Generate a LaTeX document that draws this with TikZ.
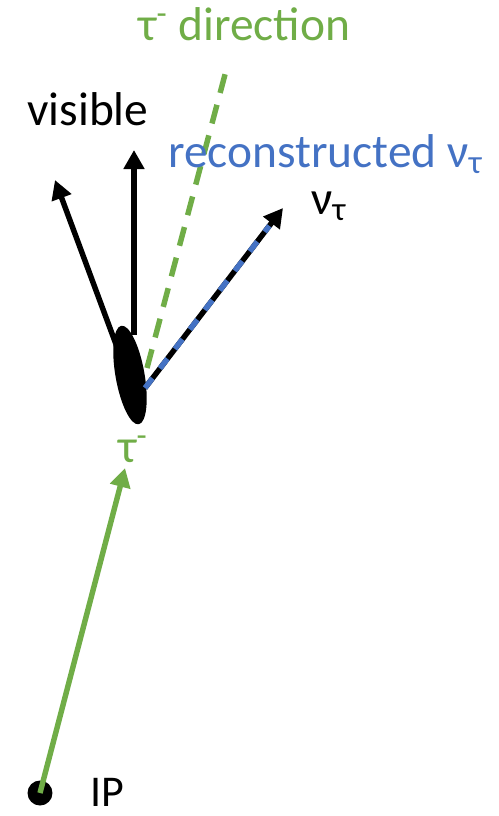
\documentclass[tikz,border=0pt]{standalone}
\usepackage{fontspec}
\setmainfont{Carlito}
\usetikzlibrary{arrows.meta,shapes.geometric}
\definecolor{taugreen}{HTML}{70AD47}
\definecolor{nublue}{HTML}{4472C4}

\begin{document}
\begin{tikzpicture}[
  x=0.02cm, y=-0.02cm,
  lbl/.style={font=\fontsize{27}{32}\selectfont, inner sep=0pt, anchor=base west},
  trk/.style={line width=3.1pt, -{Triangle[length=3.8mm, width=4mm]}},
]
\useasboundingbox (0,0) rectangle (499,816);

% vertices
\node[circle, fill, inner sep=0pt, minimum size=0.5cm] (ip) at (40,793) {};
\node[ellipse, fill, inner sep=0pt, minimum width=0.58cm, minimum height=2cm,
      rotate=10] (dec) at (130,375) {};

% end points
\coordinate (taub) at (125,468);
\coordinate (vis1) at (55,180);
\coordinate (vis2) at (134,150);
\coordinate (nu) at (283,208);
\coordinate (dirs) at (147,368);
\coordinate (dire) at (227,67);
\coordinate (nus) at (145,388);

% tracks
\draw[trk, taugreen] (ip.center) -- (taub);
\draw[line width=3.1pt, taugreen, dash pattern=on 11pt off 7pt] (dirs) -- (dire);
\draw[trk] (117,347) -- (vis1);
\draw[trk] (134,335) -- (vis2);
\draw[trk] (nus) -- (nu);
\draw[line width=3.1pt, nublue, dash pattern=on 7pt off 7pt, shorten >=4.5mm] (nus) -- (nu);

% labels
\node[lbl, font=\fontsize{25}{30}\selectfont] (ipl) at (90,806) {IP};
\node[lbl, taugreen] (taul) at (118,462) {τ\textsuperscript{-}};
\node[lbl] (visl) at (27,125) {visible};
\node[lbl, nublue] (recl) at (168,167) {reconstructed ν\textsubscript{τ}};
\node[lbl, taugreen] (dirl) at (138,40) {τ\textsuperscript{-} direction};
\node[lbl] (nul) at (311,214) {ν\textsubscript{τ}};
\end{tikzpicture}
\end{document}
